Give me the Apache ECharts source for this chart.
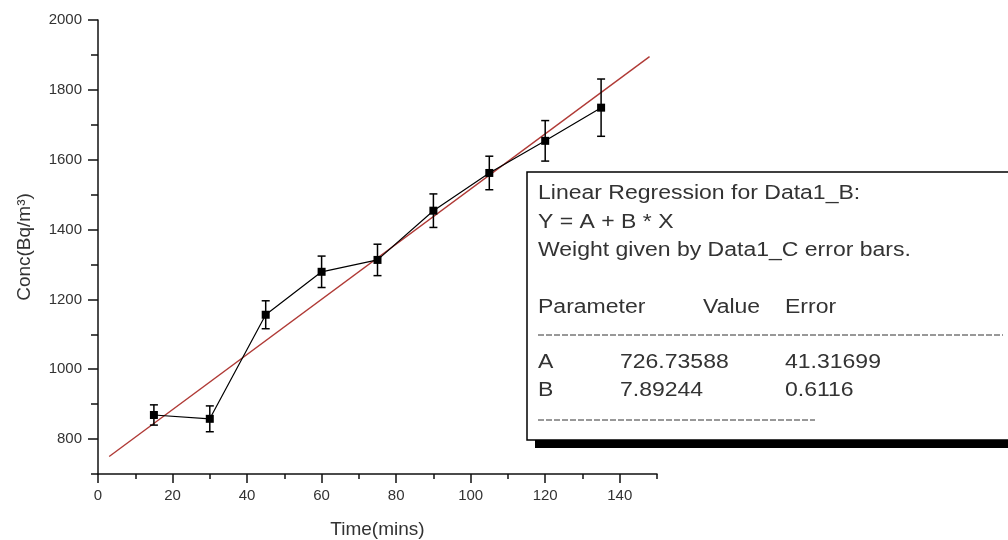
<!DOCTYPE html>
<html>
<head>
	<meta charset="utf-8">
	<title>Conc vs Time</title>
	<script src="https://cdn.jsdelivr.net/npm/echarts@6/dist/echarts.min.js"></script>
</head>
<body style="margin:0;background:#fff;">
	<div id="main" style="width: 1008px;height: 540px;"></div>
	<script>
		// measured points (time in mins, conc in Bq/m3) and error bar half-heights
		var times = [15, 30, 45, 60, 75, 90, 105, 120, 135];
		var conc = [869, 858, 1156, 1279, 1313, 1454, 1562, 1654, 1749];
		var errs = [29, 37, 40, 45, 45, 48, 48, 58, 82];

		// fitted line end points
		var regX = [3, 148];
		var regY = [750, 1895];

		// tick labels
		var xLabels = [0, 20, 40, 60, 80, 100, 120, 140];
		var yLabels = [800, 1000, 1200, 1400, 1600, 1800, 2000];

		// fit report text
		var fitTitle = ['Linear Regression for Data1_B:', 'Y = A + B * X', 'Weight given by Data1_C error bars.'];
		var fitHead = ['Parameter', 'Value', 'Error'];
		var fitRows = [['A', '726.73588', '41.31699'], ['B', '7.89244', '0.6116']];

		var myCharts = echarts.init(document.getElementById('main'));

		var pts = [], bars = [], reg = [];
		for (var i = 0; i < times.length; i++) {
			pts.push([times[i], conc[i]]);
			bars.push([times[i], conc[i] - errs[i], conc[i] + errs[i]]);
		}
		for (var j = 0; j < regX.length; j++) reg.push([regX[j], regY[j]]);

		var font = 'Liberation Sans, Arial, sans-serif';
		var txtColor = '#333';

		// the regression box (runs off the right edge like the original)
		var boxX = 527, boxY = 172, boxW = 500, boxH = 268;
		var tx = 538;
		var gfx = [
			{ type: 'rect', shape: { x: boxX + 8, y: boxY + 8, width: boxW, height: boxH }, style: { fill: '#000' }, z: 100 },
			{ type: 'rect', shape: { x: boxX, y: boxY, width: boxW, height: boxH }, style: { fill: '#fff', stroke: '#000', lineWidth: 1.5 }, z: 101 }
		];
		function addText(str, x, y) {
			gfx.push({ type: 'text', x: x, y: y, scaleX: 1.15, z: 102,
				style: { text: str, fill: txtColor, font: '20px ' + font, textVerticalAlign: 'middle' } });
		}
		addText(fitTitle[0], tx, 193);
		addText(fitTitle[1], tx, 222);
		addText(fitTitle[2], tx, 250);
		addText(fitHead[0], tx, 307);
		addText(fitHead[1], 703, 307);
		addText(fitHead[2], 785, 307);
		addText(fitRows[0][0], tx, 362);
		addText(fitRows[0][1], 620, 362);
		addText(fitRows[0][2], 785, 362);
		addText(fitRows[1][0], tx, 390);
		addText(fitRows[1][1], 620, 390);
		addText(fitRows[1][2], 785, 390);
		gfx.push({ type: 'line', z: 102, shape: { x1: tx, y1: 335, x2: 1003, y2: 335 }, style: { stroke: '#333', lineWidth: 1, lineDash: [6, 2] } });
		gfx.push({ type: 'line', z: 102, shape: { x1: tx, y1: 420, x2: 815, y2: 420 }, style: { stroke: '#333', lineWidth: 1, lineDash: [6, 2] } });

		var axisCol = '#111';
		function plain(v) { return String(v); }
		var option = {
			animation: false,
			backgroundColor: '#fff',
			grid: [
				{ left: 98, right: 351, top: 20, bottom: 66, outerBoundsMode: 'none', containLabel: false },
				{ left: 98, right: 351, top: 20, bottom: 66, outerBoundsMode: 'none', containLabel: false }
			],
			xAxis: [{
				type: 'value', gridIndex: 0, min: 0, max: 150, interval: 10,
				name: 'Time(mins)', nameLocation: 'middle', nameGap: 46,
				nameTextStyle: { fontFamily: font, fontSize: 19, color: txtColor },
				axisLine: { show: true, onZero: false, lineStyle: { color: axisCol, width: 1.5 } },
				axisTick: { show: true, length: 9, customValues: xLabels, lineStyle: { color: axisCol, width: 1.5 } },
				axisLabel: { customValues: xLabels, margin: 14, fontFamily: font, fontSize: 15, color: '#333', formatter: plain },
				splitLine: { show: false }
			}, {
				// minor ticks only
				type: 'value', gridIndex: 1, min: 0, max: 150, interval: 10,
				axisLine: { show: false },
				axisTick: { show: true, length: 5, lineStyle: { color: axisCol, width: 1.5 } },
				axisLabel: { show: false },
				splitLine: { show: false }
			}],
			yAxis: [{
				type: 'value', gridIndex: 0, min: 700, max: 2000, interval: 100,
				name: 'Conc(Bq/m³)', nameLocation: 'middle', nameGap: 64,
				nameTextStyle: { fontFamily: font, fontSize: 19, color: txtColor },
				axisLine: { show: true, onZero: false, lineStyle: { color: axisCol, width: 1.5 } },
				axisTick: { show: true, length: 10, customValues: yLabels, lineStyle: { color: axisCol, width: 1.5 } },
				axisLabel: { customValues: yLabels, margin: 16, fontFamily: font, fontSize: 15, color: '#333', formatter: plain },
				splitLine: { show: false }
			}, {
				type: 'value', gridIndex: 1, min: 700, max: 2000, interval: 100,
				axisLine: { show: false },
				axisTick: { show: true, length: 7, lineStyle: { color: axisCol, width: 1.5 } },
				axisLabel: { show: false },
				splitLine: { show: false }
			}],
			series: [{
				// fitted line
				type: 'line', xAxisIndex: 0, yAxisIndex: 0, data: reg,
				showSymbol: false, z: 2,
				lineStyle: { color: '#b03a36', width: 1.4 }
			}, {
				type: 'line', xAxisIndex: 0, yAxisIndex: 0, data: pts,
				symbol: 'rect', symbolSize: 8, z: 3,
				itemStyle: { color: '#000' },
				lineStyle: { color: '#000', width: 1.2 }
			}, {
				// error bars
				type: 'custom', xAxisIndex: 0, yAxisIndex: 0, data: bars, z: 4,
				renderItem: function (params, api) {
					var lo = api.coord([api.value(0), api.value(1)]);
					var hi = api.coord([api.value(0), api.value(2)]);
					var w = 4;
					var st = { stroke: '#000', lineWidth: 1.5 };
					return {
						type: 'group',
						children: [
							{ type: 'line', shape: { x1: lo[0], y1: lo[1], x2: hi[0], y2: hi[1] }, style: st },
							{ type: 'line', shape: { x1: lo[0] - w, y1: lo[1], x2: lo[0] + w, y2: lo[1] }, style: st },
							{ type: 'line', shape: { x1: hi[0] - w, y1: hi[1], x2: hi[0] + w, y2: hi[1] }, style: st }
						]
					};
				}
			}],
			graphic: gfx
		};

		myCharts.setOption(option);
	</script>
</body>
</html>
